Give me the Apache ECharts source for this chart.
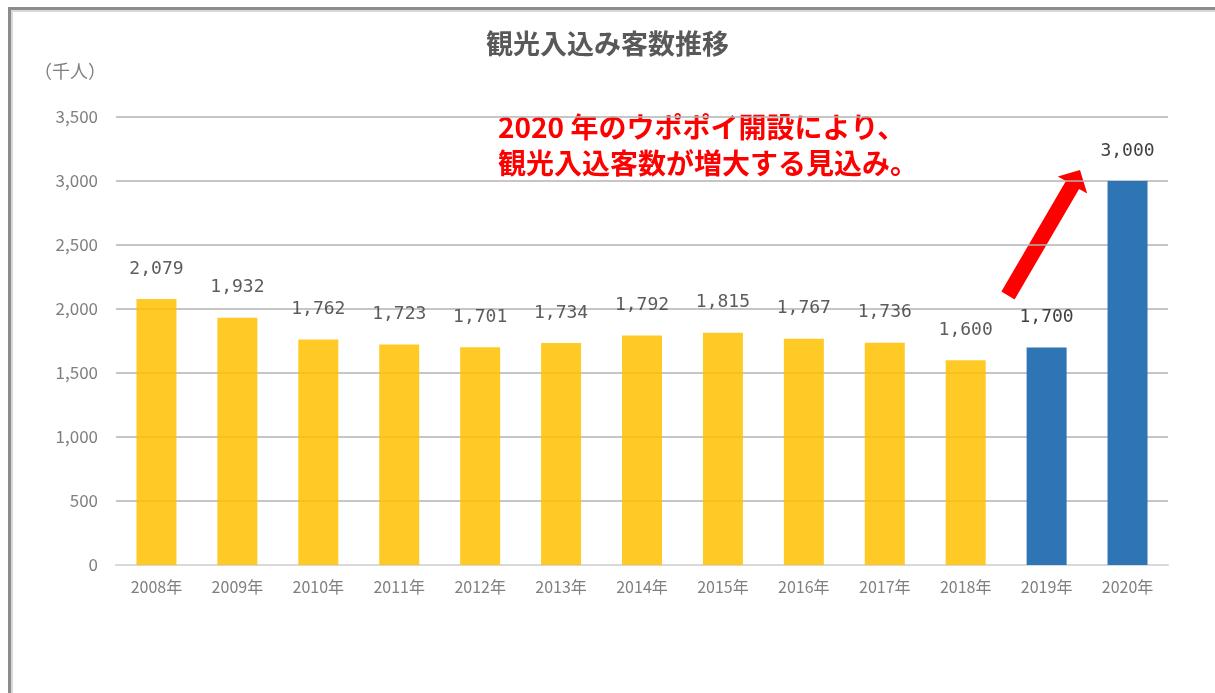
<!DOCTYPE html>
<html>
<head>
<meta charset="utf-8">
<script src="https://cdn.jsdelivr.net/npm/echarts@6/dist/echarts.min.js"></script>
<style>
  body { margin: 0; background: #fff; }
  #chart { position: absolute; left: 0; top: 0; width: 1215px; height: 693px; }
  #frame {
    position: absolute; left: 8px; top: 7px; width: 1220px; height: 700px;
    border-top: 3px solid #8c8c8c; border-left: 3px solid #8c8c8c;
    box-shadow: inset 2px 2px 0 #d9d9d9; pointer-events: none;
  }
</style>
</head>
<body>
<div id="chart"></div>
<div id="frame"></div>
<script>
const years = ['2008年', '2009年', '2010年', '2011年', '2012年', '2013年', '2014年',
    '2015年', '2016年', '2017年', '2018年', '2019年', '2020年']
const actualValues = [2079, 1932, 1762, 1723, 1701, 1734, 1792, 1815, 1767, 1736, 1600, null, null]
const projectedValues = [null, null, null, null, null, null, null, null, null, null, null, 1700, 3000]

const labelFont = '"DejaVu Sans Mono", "Liberation Mono", monospace'
const axisFont = '"Noto Sans CJK JP", "Noto Sans", sans-serif'

const valueLabel = {
    show: true,
    position: 'top',
    distance: 21,
    color: '#404040',
    fontFamily: labelFont,
    fontSize: 18,
    formatter: p => p.value.toLocaleString('en-US')
}

const myChart = echarts.init(document.getElementById('chart'))
const option = {
    animation: false,
    title: {
        text: '観光入込み客数推移',
        left: 'center',
        top: 25,
        textStyle: { color: '#595959', fontSize: 27, fontWeight: 'bold', fontFamily: axisFont }
    },
    grid: { left: 116, right: 47, top: 117, bottom: 128 },
    xAxis: {
        type: 'category',
        data: years,
        axisLine: { lineStyle: { color: '#d9d9d9', width: 2 } },
        axisTick: { show: false },
        axisLabel: { color: '#7f7f7f', fontSize: 16, fontFamily: axisFont, margin: 14 }
    },
    yAxis: {
        type: 'value',
        min: 0,
        max: 3500,
        interval: 500,
        axisLine: { show: false },
        axisTick: { show: false },
        splitLine: { lineStyle: { color: '#b3b3b3', width: 1.5 } },
        axisLabel: {
            color: '#7f7f7f', fontSize: 17, fontFamily: axisFont, margin: 18,
            formatter: v => v.toLocaleString('en-US')
        }
    },
    series: [
        {
            name: '実績',
            type: 'bar',
            barWidth: 40,
            barGap: '-100%',
            data: actualValues,
            itemStyle: { color: '#FFC000', opacity: 0.85 },
            label: valueLabel
        },
        {
            name: '見込み',
            type: 'bar',
            barWidth: 40,
            data: projectedValues,
            itemStyle: { color: '#2E75B6' },
            label: valueLabel
        }
    ],
    graphic: [
        {
            type: 'text', left: 34, top: 62,
            style: { text: '（千人）', fill: '#7f7f7f', font: '18px ' + axisFont }
        },
        {
            type: 'text', left: 498, top: 109,
            style: {
                text: '2020 年のウポポイ開設により、\n観光入込客数が増大する見込み。',
                fill: '#ff0000', font: 'bold 28px ' + axisFont, lineHeight: 36
            }
        },
        {
            type: 'polygon',
            shape: {
                points: [[1001.4, 291.6], [1065.9, 181.1], [1057.8, 176.4], [1080, 170],
                    [1087.2, 193.6], [1079.1, 188.9], [1014.6, 299.4]]
            },
            style: { fill: '#ff0000' }
        }
    ]
}
myChart.setOption(option)
</script>
</body>
</html>
